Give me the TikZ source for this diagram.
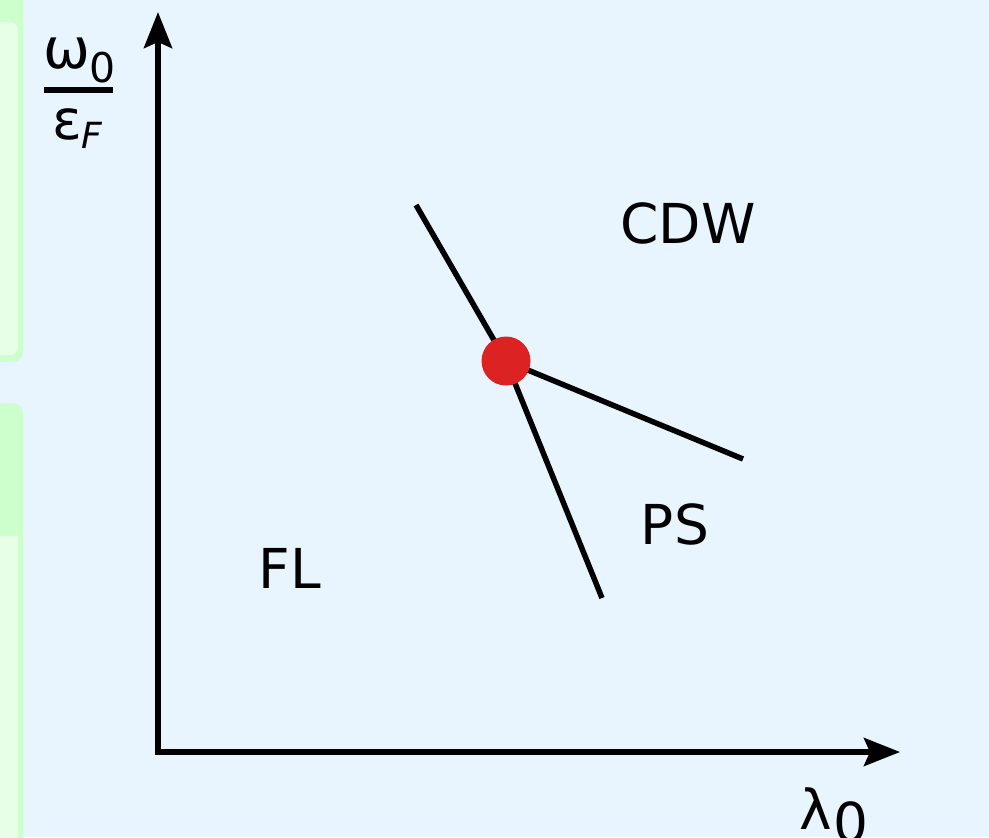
\documentclass[tikz,border=0pt]{standalone}
\usepackage{fontspec}
\setmainfont{DejaVu Sans}
\usetikzlibrary{arrows.meta}
\definecolor{bgblue}{RGB}{232,245,255}
\definecolor{panelgreen}{RGB}{204,255,204}
\definecolor{panellight}{RGB}{230,255,230}
\definecolor{dotred}{RGB}{221,34,34}
\begin{document}
\begin{tikzpicture}[x=0.5pt,y=-0.5pt,
  axisline/.style={line width=2.9pt,
    {Stealth[length=18pt,width=14pt,inset=3pt]}-{Stealth[length=18pt,width=14pt,inset=3pt]}},
  phase/.style={line width=2.75pt},
  lbl/.style={font=\fontsize{27.5}{33}\selectfont, inner sep=0pt, anchor=base},
  txt/.style={inner sep=0pt, anchor=base west},
  dot/.style={circle, fill=dotred, minimum size=24.5pt, inner sep=0pt}
]
\useasboundingbox (0,0) rectangle (989,837);
\clip (0,0) rectangle (989,837);
\fill[bgblue] (0,0) rectangle (989,837);
% left panels
\fill[panelgreen, rounded corners=5pt] (-20,-20) rectangle (23,362);
\fill[panellight, rounded corners=4pt] (-20,22) rectangle (18,355);
\fill[panelgreen, rounded corners=5pt] (-20,403) rectangle (23,860);
\fill[panellight] (-20,536) rectangle (18,860);
% axes
\coordinate (ytip) at (158,12);
\coordinate (orig) at (158,752);
\coordinate (xtip) at (900,752);
\draw[axisline] (ytip) -- (orig) -- (xtip);
% phase boundaries
\coordinate (cp) at (506,361);
\coordinate (l1) at (416,205);
\coordinate (l2) at (602,598);
\coordinate (l3) at (743,459);
\draw[phase] (l1) -- (cp);
\draw[phase] (cp) -- (l2);
\draw[phase] (cp) -- (l3);
\node[dot] (crit) at (cp) {};
% region labels
\node[lbl] (cdw) at (688,243) {CDW};
\node[lbl] (ps) at (675,544) {PS};
\node[lbl] (fl) at (290,588) {FL};
% y-axis label
\node[txt, font=\fontsize{28}{32}\selectfont] (om) at (43,68) {ω};
\node[txt, font=\fontsize{20.5}{24}\selectfont] (om0) at (89,82) {0};
\draw[line width=2.75pt] (44,90) -- (113,90);
\node[txt, font=\fontsize{27.5}{32}\selectfont] (eps) at (52,139) {ε};
\node[txt, font=\fontsize{18}{22}\selectfont\itshape] (epsF) at (81,148) {F};
% x-axis label
\node[txt, font=\fontsize{27.5}{33}\selectfont] (lam) at (799,829) {λ};
\node[txt, font=\fontsize{27.5}{33}\selectfont] (lam0) at (833,842) {0};
\end{tikzpicture}
\end{document}
